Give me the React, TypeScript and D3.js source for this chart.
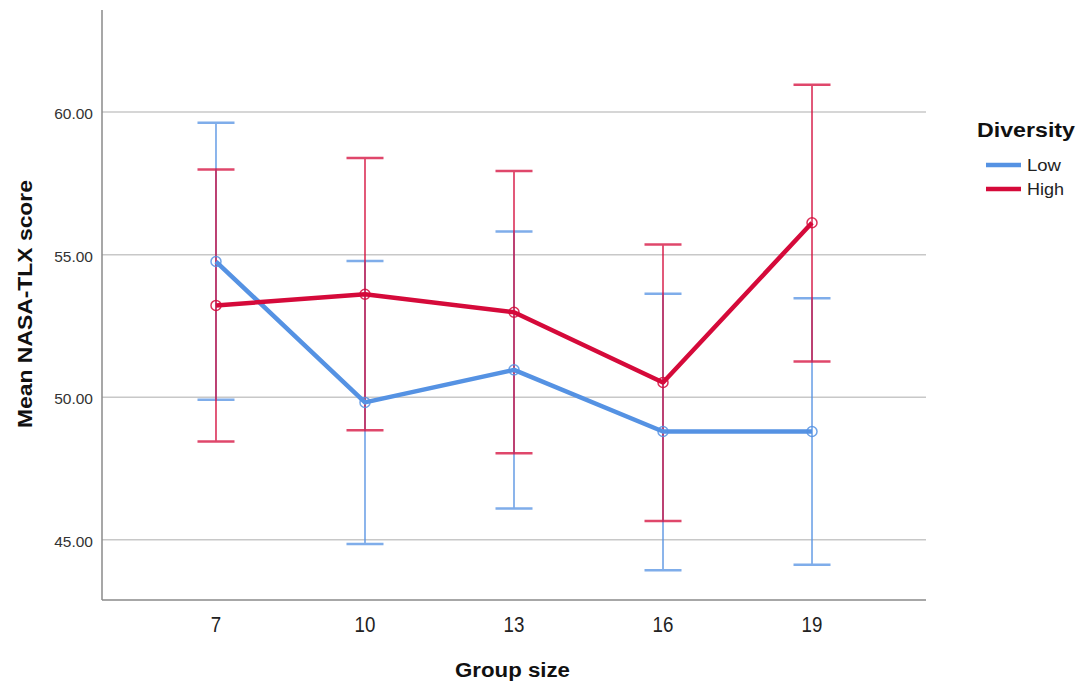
import React from 'react';
import * as d3 from 'd3';

const groupSizes = ['7', '10', '13', '16', '19'];
const yTicks = [45, 50, 55, 60];

const lowMean = [54.76, 49.82, 50.96, 48.8, 48.8];
const lowUpper = [59.63, 54.78, 55.81, 53.63, 53.47];
const lowLower = [49.91, 44.85, 46.1, 43.93, 44.13];

const highMean = [53.22, 53.61, 52.98, 50.52, 56.12];
const highUpper = [57.99, 58.39, 57.93, 55.36, 60.96];
const highLower = [48.45, 48.84, 48.04, 45.66, 51.25];

const series = [
  { name: 'Low', color: '#5592e3', mean: lowMean, upper: lowUpper, lower: lowLower, legendWidth: 34 },
  { name: 'High', color: '#d50a3a', mean: highMean, upper: highUpper, lower: highLower, legendWidth: 37 },
];

const W = 1078;
const H = 684;
const left = 102;
const right = 926;
const top = 10;
const bottom = 600;
const font = '"Liberation Sans", Arial, sans-serif';

export default function App() {
  const x = d3.scalePoint<string>().domain(groupSizes).range([left, right]).padding(0.765);
  const y = d3.scaleLinear().domain([42.89, 63.58]).range([bottom, top]);

  const line = d3.line<number>()
    .x((_, i) => x(groupSizes[i]) as number)
    .y(d => y(d));

  const capHalf = 18.5;

  return (
    <svg width={W} height={H} style={{ position: 'absolute', left: 0, top: 0, background: '#fff' }}>
      {/* gridlines */}
      {yTicks.map(t => (
        <line key={t} x1={left} x2={right} y1={y(t)} y2={y(t)} stroke="#c8c8c8" strokeWidth={1.5} />
      ))}
      {/* axes */}
      <line x1={left} x2={left} y1={top} y2={bottom} stroke="#8a8a8a" strokeWidth={1.5} />
      <line x1={left} x2={right} y1={bottom} y2={bottom} stroke="#8a8a8a" strokeWidth={1.5} />

      {/* y tick labels */}
      {yTicks.map(t => (
        <text key={t} x={left - 9} y={y(t)} dy="0.45em" textAnchor="end" fontSize={15.5} fontFamily={font} fill="#333">
          {t.toFixed(2)}
        </text>
      ))}
      {/* x tick labels */}
      {groupSizes.map(g => (
        <text key={g} transform={`translate(${x(g)},632) scale(0.85,1)`} textAnchor="middle" fontSize={22} fontFamily={font} fill="#222">
          {g}
        </text>
      ))}

      {/* error bars */}
      {series.map(s => (
        <g key={s.name + '-err'} stroke={s.color} strokeWidth={1.8} opacity={0.75}>
          {groupSizes.map((g, i) => {
            const cx = x(g) as number;
            return (
              <g key={g}>
                <line x1={cx} x2={cx} y1={y(s.upper[i])} y2={y(s.lower[i])} />
                <line x1={cx - capHalf} x2={cx + capHalf} y1={y(s.upper[i])} y2={y(s.upper[i])} strokeWidth={2.5} />
                <line x1={cx - capHalf} x2={cx + capHalf} y1={y(s.lower[i])} y2={y(s.lower[i])} strokeWidth={2.5} />
              </g>
            );
          })}
        </g>
      ))}

      {/* mean lines */}
      {series.map(s => (
        <g key={s.name + '-line'}>
          <path d={line(s.mean) || ''} fill="none" stroke={s.color} strokeWidth={4.5} strokeLinejoin="round" />
          {s.mean.map((v, i) => (
            <circle key={i} cx={x(groupSizes[i])} cy={y(v)} r={5} fill="none" stroke={s.color} strokeWidth={1.5} opacity={0.85} />
          ))}
        </g>
      ))}

      {/* axis titles */}
      <text x={455} y={677} textLength={115} lengthAdjust="spacingAndGlyphs" fontSize={20} fontWeight="bold" fontFamily={font} fill="#111">
        Group size
      </text>
      <text transform={`translate(32,428) rotate(-90)`} textLength={248} lengthAdjust="spacingAndGlyphs" fontSize={20} fontWeight="bold" fontFamily={font} fill="#111">
        Mean NASA-TLX score
      </text>

      {/* legend */}
      <text x={977} y={137} textLength={98} lengthAdjust="spacingAndGlyphs" fontSize={20} fontWeight="bold" fontFamily={font} fill="#111">Diversity</text>
      {series.map((s, i) => (
        <g key={s.name + '-leg'}>
          <line x1={986} x2={1021} y1={165 + i * 24} y2={165 + i * 24} stroke={s.color} strokeWidth={4.5} />
          <text x={1027} y={165 + i * 24} dy="0.38em" textLength={s.legendWidth} lengthAdjust="spacingAndGlyphs" fontSize={17} fontFamily={font} fill="#222">{s.name}</text>
        </g>
      ))}
    </svg>
  );
}
